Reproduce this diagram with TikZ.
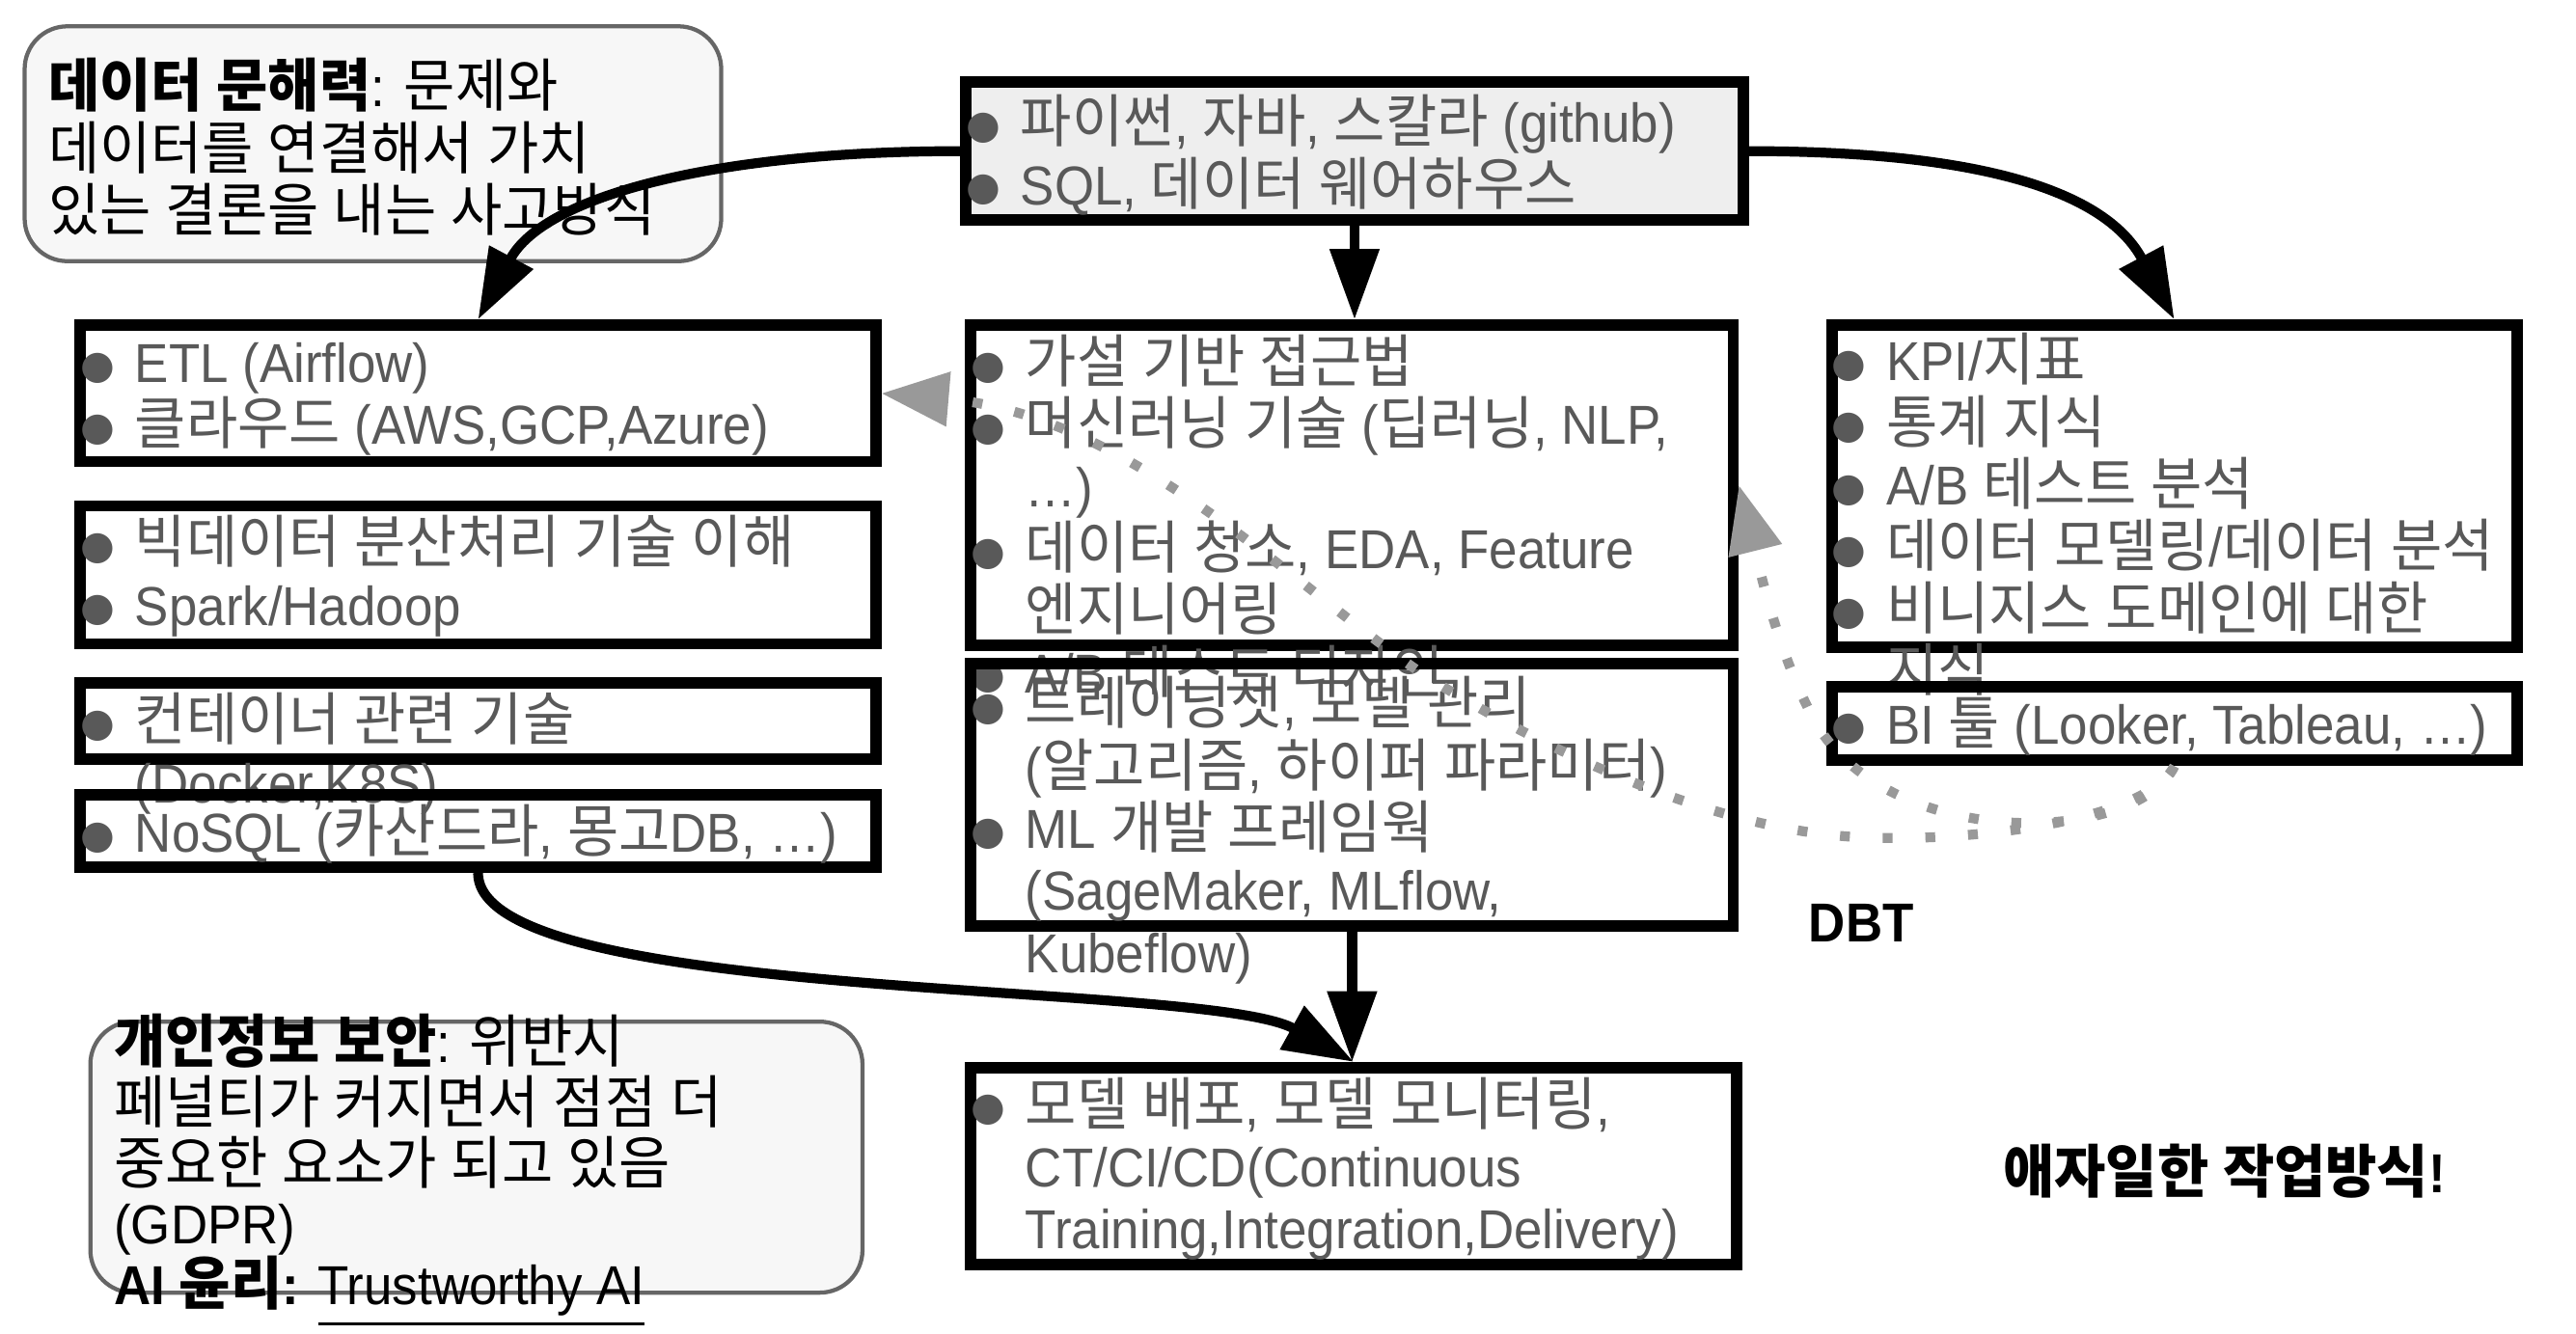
\documentclass[tikz,border=0pt]{standalone}
\usepackage{fontspec}
\setmainfont[FakeStretch=0.93]{Liberation Sans}
\newfontfamily\krfont[Scale=1.05,FakeStretch=0.97]{Noto Sans CJK KR}
\newfontfamily\dotfont[Scale=0.72]{DejaVu Sans}
\usetikzlibrary{arrows.meta,positioning,fit,calc}

% Hangul syllables go to the Korean face, everything else stays Liberation Sans
\XeTeXinterchartokenstate=1
\newXeTeXintercharclass\hangulcls
\newcount\hangulcnt
\hangulcnt="AC00
\loop
  \XeTeXcharclass\hangulcnt=\hangulcls
  \ifnum\hangulcnt<"D7A3
  \advance\hangulcnt by 1
\repeat
\XeTeXinterchartoks 0 \hangulcls = {\begingroup\krfont}
\XeTeXinterchartoks 4095 \hangulcls = {\begingroup\krfont}
\XeTeXinterchartoks \hangulcls 0 = {\endgroup}
\XeTeXinterchartoks \hangulcls 4095 = {\endgroup}

\definecolor{boxgray}{HTML}{EEEEEE}
\definecolor{notefill}{HTML}{F7F7F7}
\definecolor{notedraw}{HTML}{666666}
\definecolor{txtgray}{HTML}{595959}
\definecolor{dotgray}{HTML}{999999}

\newcommand{\bulletdot}{\makebox[3.3mm][l]{\raisebox{0.25mm}{\dotfont\textcolor{txtgray}{●}}}}
\newcommand{\hangin}{\hspace*{3.3mm}}
\newcommand{\firstline}{\rule{0pt}{9pt}}

\begin{document}
\begin{tikzpicture}[
  x=0.1mm, y=-0.1mm,
  font=\fontsize{9.5pt}{10.75pt}\selectfont,
  >={Triangle[length=4.3mm,width=2.9mm]},
  box/.style={rectangle, draw=black, line width=0.7mm, inner sep=0pt},
  langbox/.style={box, fill=boxgray},
  note/.style={rectangle, rounded corners=2.6mm, draw=notedraw, line width=0.25mm,
               fill=notefill, inner sep=0pt},
  txt/.style={anchor=north west, inner sep=0pt, align=left, text=txtgray},
  notetxt/.style={anchor=north west, inner sep=0pt, align=left, text=black},
  tag/.style={font=\fontsize{9.5pt}{10.75pt}\selectfont\bfseries, text=black, inner sep=0pt},
  flow/.style={->, draw=black, line width=0.6mm},
  hint/.style={-{Triangle[length=4.1mm,width=3.2mm]}, draw=dotgray, line width=0.6mm,
               dash pattern=on 0.6mm off 2mm},
]
\useasboundingbox (0,0) rectangle (1568,812);
\fill[white] (0,0) rectangle (1568,812);

% ---- side notes ----
\node[note, fit={(15,16) (439,159)}] (literacy) {};
\node[notetxt] (literacytxt) at ($(literacy.north west)+(15,18)$)
  {\firstline\textbf{데이터 문해력}: 문제와\\데이터를 연결해서 가치\\있는 결론을 내는 사고방식};
\node[note, fit={(55,622) (525,787)}] (privacy) {};
\node[notetxt, font=\fontsize{9.5pt}{10.46pt}\selectfont] (privacytxt) at ($(privacy.north west)+(15,-6)$)
  {\firstline\textbf{개인정보 보안}: 위반시\\페널티가 커지면서 점점 더\\중요한 요소가 되고 있음\\(GDPR)\\
   \textbf{AI 윤리:} \underline{Trustworthy AI}};

% ---- top: languages ----
\node[langbox, fit={(588,50) (1061,134)}] (langs) {};
\node[txt] (langstxt) at ($(langs.north west)+(3,8)$)
  {\firstline\bulletdot 파이썬, 자바, 스칼라 (github)\\\bulletdot SQL, 데이터 웨어하우스};

% ---- left column: data engineering ----
\node[box, fit={(49,198) (533,281)}] (etl) {};
\node[txt] (etltxt) at ($(etl.north west)+(3,6)$)
  {\firstline\bulletdot ETL (Airflow)\\\bulletdot 클라우드 (AWS,GCP,Azure)};
\node[box, fit={(49,308) (533,392)}] (bigdata) {};
\node[txt] (bigdatatxt) at ($(bigdata.north west)+(3,6)$)
  {\firstline\bulletdot 빅데이터 분산처리 기술 이해\\\bulletdot Spark/Hadoop};
\node[box, fit={(49,416) (533,462)}] (container) {};
\node[txt] (containertxt) at ($(container.north west)+(3,6)$)
  {\firstline\bulletdot 컨테이너 관련 기술\\\hangin(Docker,K8S)};
\node[box, fit={(49,484) (533,528)}] (nosql) {};
\node[txt] (nosqltxt) at ($(nosql.north west)+(3,6)$)
  {\firstline\bulletdot NoSQL (카산드라, 몽고DB, …)};

% ---- middle column: data science ----
\node[box, fit={(591,198) (1055,393)}] (ds1) {};
\node[txt] (ds1txt) at ($(ds1.north west)+(3,6)$)
  {\firstline\bulletdot 가설 기반 접근법\\\bulletdot 머신러닝 기술 (딥러닝, NLP,\\\hangin …)\\
   \bulletdot 데이터 청소, EDA, Feature\\\hangin 엔지니어링\\\bulletdot A/B 테스트 디자인};
\node[box, fit={(591,404) (1055,564)}] (ds2) {};
\node[txt] (ds2txt) at ($(ds2.north west)+(3,8)$)
  {\firstline\bulletdot 트레이닝셋, 모델 관리\\\hangin(알고리즘, 하이퍼 파라미터)\\
   \bulletdot ML 개발 프레임웍\\\hangin(SageMaker, MLflow,\\\hangin Kubeflow)};
\node[box, fit={(591,650) (1057,770)}] (deploy) {};
\node[txt] (deploytxt) at ($(deploy.north west)+(3,6)$)
  {\firstline\bulletdot 모델 배포, 모델 모니터링,\\\hangin CT/CI/CD(Continuous\\\hangin Training,Integration,Delivery)};

% ---- right column: analytics ----
\node[box, fit={(1115,198) (1532,394)}] (ana) {};
\node[txt] (anatxt) at ($(ana.north west)+(3,5)$)
  {\firstline\bulletdot KPI/지표\\\bulletdot 통계 지식\\\bulletdot A/B 테스트 분석\\
   \bulletdot 데이터 모델링/데이터 분석\\\bulletdot 비니지스 도메인에 대한\\\hangin 지식};
\node[box, fit={(1115,418) (1532,463)}] (bi) {};
\node[txt] (bitxt) at ($(bi.north west)+(3,6)$)
  {\firstline\bulletdot BI 툴 (Looker, Tableau, …)};

% ---- free labels ----
\node[tag] (dbt) at (1133,562) {DBT};
\node[tag] (agile) at (1354,713) {애자일한 작업방식!};

% ---- main flow ----
\draw[flow] (langs.west) .. controls +(-150,0) and +(40,-75) .. (etl.north);
\draw[flow] (langs.south) -- (langs.south |- ds1.north);
\draw[flow] (langs.east) .. controls +(150,0) and +(-40,-75) .. (ana.north);
\draw[flow] (ds2.south) -- (ds2.south |- deploy.north);
\draw[flow] (nosql.south) .. controls +(0,80) and +(-90,-50) .. (deploy.north);

% ---- dotted hints from BI ----
\coordinate (dip) at (1140,510);
\coordinate (bend) at (870,413);
\coordinate (turn) at (1100,430);
\draw[hint] (bi.south) .. controls +(-18,34) and +(60,2) .. (dip)
  .. controls +(-100,-2) and +(60,37) .. (bend)
  .. controls +(-80,-53) and +(153,13) .. (etl.east);
\draw[hint] (bi.south) .. controls +(-23,49) and +(40,90) .. (turn)
  .. controls +(-20,-40) and +(10,40) .. (ds1.east);
\end{tikzpicture}
\end{document}
